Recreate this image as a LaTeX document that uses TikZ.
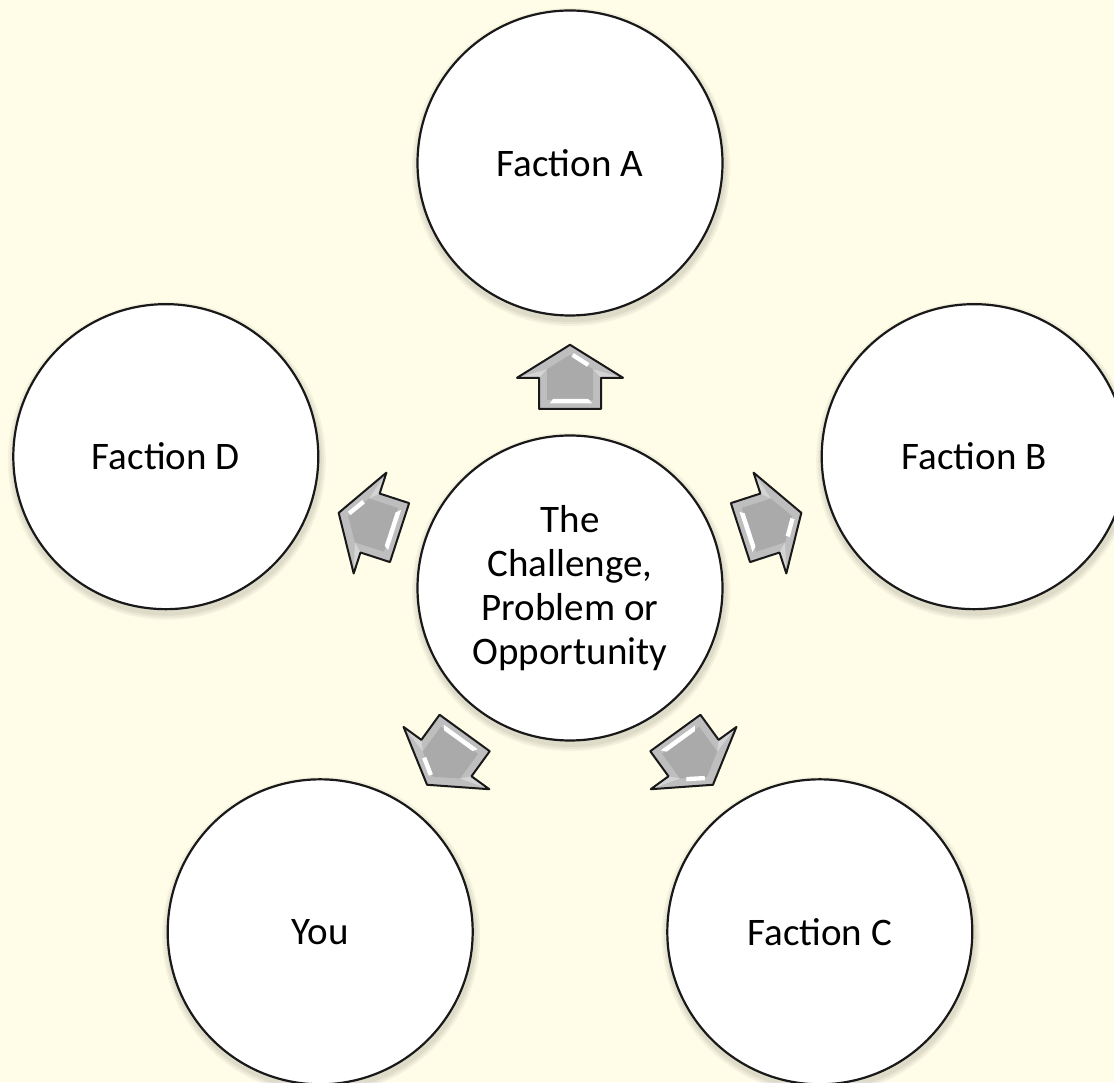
\documentclass[tikz,border=0pt]{standalone}
\usepackage{fontspec}
\setmainfont{Carlito}
\usetikzlibrary{calc}
\definecolor{bgcream}{RGB}{255,252,232}
\definecolor{bevelgray}{RGB}{190,190,190}
\definecolor{bodygray}{RGB}{170,170,170}
\tikzset{
  bubble/.style={circle, draw=black!90, line width=2.2pt, fill=white, minimum size=305pt,
    inner sep=0pt, align=center, font=\fontsize{39}{44}\selectfont},
  bubbleshadow/.style={fill=black, opacity=0.045},
  blockarrow/.pic={
    \fill[bevelgray] (32,0) -- (-1,53) -- (-1,31) -- (-32,31) -- (-32,-31) -- (-1,-31) -- (-1,-53) -- cycle;
    \fill[bodygray] (22,0) -- (7.5,23) -- (-23,23) -- (-23,-23) -- (7.5,-23) -- cycle;
    \fill[black!8, opacity=0.5] (-1,53) -- (7.5,23) -- (-1,31) -- cycle (-1,-53) -- (7.5,-23) -- (-1,-31) -- cycle;
    \fill[white] (20,-1.5) -- (10,-17) -- (13.6,-19.4) -- (23.6,-3.9) -- cycle;
    \fill[white] (-22,17) -- (-22,-18) -- (-26.5,-22) -- (-26.5,20) -- cycle;
    \draw[black!90, line width=2pt, line join=round] (32,0) -- (-1,53) -- (-1,31) -- (-32,31)
      -- (-32,-31) -- (-1,-31) -- (-1,-53) -- cycle;
  }
}
\begin{document}
\begin{tikzpicture}[x=1pt,y=1pt]
\fill[bgcream] (0,0) rectangle (1114,1082);
\useasboundingbox (0,0) rectangle (1114,1082);
\clip (0,0) rectangle (1114,1082);
\coordinate (O) at (570,494);
\coordinate (pA) at ($(O)+(90:425)$);
\coordinate (pB) at ($(O)+(18:425)$);
\coordinate (pC) at ($(O)+(-54:425)$);
\coordinate (pY) at ($(O)+(-126:425)$);
\coordinate (pD) at ($(O)+(162:425)$);
% soft shadows
\foreach \p in {O,pA,pB,pC,pY,pD}{
  \foreach \r in {155,157,159}{
    \fill[bubbleshadow] ($(\p)+(1,-4)$) circle (\r);
  }
}
\node[bubble] (ctr) at (O) {The\\Challenge,\\Problem or\\Opportunity};
\node[bubble] (fa) at (pA) {Faction A};
\node[bubble] (fb) at (pB) {Faction B};
\node[bubble] (fc) at (pC) {Faction C};
\node[bubble] (you) at (pY) {You};
\node[bubble] (fd) at (pD) {Faction D};
\pic[rotate=90] at ($(ctr)!0.497!(fa)$) {blockarrow};
\pic[rotate=18] at ($(ctr)!0.497!(fb)$) {blockarrow};
\pic[rotate=-54] at ($(ctr)!0.497!(fc)$) {blockarrow};
\pic[rotate=-126] at ($(ctr)!0.497!(you)$) {blockarrow};
\pic[rotate=162] at ($(ctr)!0.497!(fd)$) {blockarrow};
\end{tikzpicture}
\end{document}
